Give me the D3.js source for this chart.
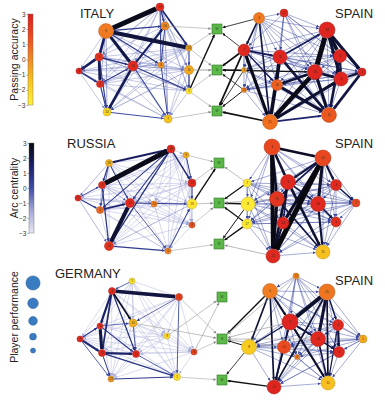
<!DOCTYPE html>
<html>
<head>
<meta charset="utf-8">
<script src="https://cdn.jsdelivr.net/npm/d3@7"></script>
<style>
  body { margin: 0; background: #fff; }
  text { font-family: "Liberation Sans", Arial, sans-serif; }
</style>
</head>
<body>
<div id="viz"></div>
<script>
// chart size
var width = 385;
var height = 400;

var panelTop = [0, 130, 260];
var panelH = 130;

// ---- data ----
var titles = ["ITALY", "RUSSIA", "GERMANY"];
var rivalTitle = "SPAIN";
var squareLabels = ["W", "G", "W"];
var accTicks = [-3, -2, -1, 0, 1, 2, 3];
var perfLegend = [2, 0, -1, -2, -3];

// node: [label, x, y (inside panel), player performance, passing accuracy]
var italyNodes = [
  ["19", 160, 7, -1.4, 2.5], ["9", 106, 31, 2.4, 0.4], ["14", 165, 26, -1.4, 0.1],
  ["16", 189, 48, -2.4, -0.4], ["6", 99, 57, -1.4, 2.3], ["15", 133, 66, -0.3, 2.6],
  ["8", 161, 65, -2.4, -0.2], ["11", 189, 70, -0.8, -0.7], ["3", 79, 71, -2.4, 2.8],
  ["2", 100, 84, -1.9, 2.5], ["5", 189, 91, -2.4, -2.6], ["10", 107, 112, -1.4, -1.9],
  ["7", 168, 119, -1.4, -1.4]
];
var russiaNodes = [
  ["16", 171, 19, -1.4, 2.6], ["9", 186, 25, -2.4, -0.8], ["18", 109, 33, -1.9, -1.0],
  ["3", 102, 55, -1.9, 2.5], ["21", 192, 53, -1.4, 2.6], ["5", 78, 68, -2.4, 2.7],
  ["11", 130, 73, -0.8, 2.7], ["14", 154, 74, -2.4, 0.1], ["19", 192, 74, -0.3, -2.6],
  ["4", 100, 80, -1.9, 0.8], ["8", 192, 95, -2.4, 1.3], ["20", 109, 116, -0.8, 2.3],
  ["6", 168, 121, -2.4, 0.2]
];
var germanyNodes = [
  ["7", 132, 21, -2.4, -2.2], ["4", 112, 31, -1.9, 2.6], ["2", 179, 37, -1.9, 1.8],
  ["10", 133, 63, -1.4, -1.0], ["6", 100, 66, -2.4, 2.5], ["9", 167, 76, -2.4, -2.2],
  ["3", 80, 79, -2.4, 2.7], ["8", 194, 92, -2.4, 1.8], ["5", 102, 93, -1.9, 2.6],
  ["11", 136, 94, -1.9, 2.6], ["13", 111, 119, -2.4, -0.3], ["1", 177, 117, -1.9, -2.3]
];
var spain1Nodes = [
  ["4", 259, 18, 0.3, 0.4], ["22", 284, 13, -1.4, 2.6], ["18", 327, 30, 3, 2.8],
  ["7", 244, 50, 0.8, 2.7], ["6", 280, 57, 1.9, 2.8], ["8", 340, 56, 1.4, 2.8],
  ["3", 244, 70, -3, -0.6], ["16", 315, 72, 2.4, 2.8], ["1", 362, 72, -1.4, 2.8],
  ["4", 341, 79, 1.9, 2.8], ["10", 277, 85, 0.3, 1.0], ["13", 244, 90, -3, 0.0],
  ["21", 270, 122, 2.4, 0.6], ["11", 329, 115, 2.4, 1.2]
];
var spain2Nodes = [
  ["3", 272, 17, 3, 1.6], ["15", 323, 28, 3, 1.6], ["7", 247, 53, -1.4, -2.6],
  ["9", 288, 52, 2.4, 2.7], ["4", 336, 55, 0.3, 2.6], ["10", 277, 69, 2.4, 2.2],
  ["8", 248, 74, 1.9, -2.7], ["16", 318, 74, 2.4, 2.7], ["1", 356, 73, -1.4, 1.6],
  ["17", 247, 94, -0.3, -2.6], ["14", 283, 93, 0.8, 2.8], ["5", 336, 92, -0.3, 2.5],
  ["21", 273, 126, 1.9, 2.7], ["11", 323, 122, 1.9, -1.3]
];
var spain3Nodes = [
  ["13", 296, 16, -2.4, 0.0], ["6", 270, 31, 2.4, 0.3], ["15", 327, 32, 3, 0.5],
  ["9", 290, 62, 3, 2.8], ["4", 338, 65, 0.3, 2.7], ["16", 318, 79, 2.4, 2.7],
  ["1", 363, 79, -1.4, -0.8], ["8", 249, 87, 2.4, -1.6], ["10", 284, 87, 1.4, 1.5],
  ["3", 297, 97, -3, 0.2], ["5", 339, 92, 0.3, 2.7], ["21", 274, 127, 1.9, 2.8],
  ["11", 328, 123, 1.9, -1.3]
];

// heavy passes: [from, to, weight, arc centrality]
var italyEdges = [
  [1, 0, 10, 2.8], [1, 3, 8, 2.2], [1, 5, 6, 2.0], [1, 4, 5, 1.5], [4, 9, 5, 1.8],
  [8, 4, 5, 1.6], [8, 9, 3, 0.8], [5, 2, 4, 1.5], [5, 11, 5, 1.8], [0, 3, 3, 1.2],
  [0, 2, 2, 0.8], [4, 5, 2.5, 0.9], [9, 5, 2, 0.6], [1, 6, 2, 0.7], [7, 10, 2, 0.5],
  [9, 11, 2, 0.5], [4, 11, 2, 0.4], [1, 2, 2, 0.6], [5, 10, 2, 0.5], [2, 6, 1.5, 0.3],
  [3, 7, 1.5, 0.3], [0, 6, 1.5, 0.2], [6, 12, 1.5, 0.3], [11, 12, 1.5, 0], [5, 12, 1.5, 0.2]
];
var russiaEdges = [
  [3, 0, 10, 2.8], [11, 6, 8, 2.4], [2, 0, 4, 1.6], [2, 3, 2, 0.8], [0, 4, 2.5, 1.2],
  [3, 11, 2, 0.8], [9, 6, 3, 1.2], [5, 9, 2, 0.5], [0, 11, 2, 1.0], [0, 9, 1.5, 0.6],
  [11, 12, 2, 0.6], [2, 6, 1.5, 0.5], [1, 4, 1.5, 0.5], [4, 8, 1.5, 0.6], [6, 8, 1.5, 0.4],
  [12, 8, 1.5, 0.4], [0, 6, 1.5, 0.6], [6, 12, 1.2, 0.2], [2, 9, 1.2, 0.2], [5, 3, 1.2, 0.2]
];
var germanyEdges = [
  [1, 2, 7, 2.2], [1, 4, 4, 1.5], [4, 8, 6, 2.0], [1, 8, 3, 1.2], [6, 8, 4, 1.2],
  [8, 9, 4, 1.4], [1, 3, 3, 2.6], [8, 11, 2, 0.8], [1, 9, 2, 1.0], [4, 9, 2, 0.6],
  [6, 4, 2, 0.8], [8, 10, 1.5, 0.6], [10, 11, 1.5, 0.6], [6, 10, 1.2, 0.2], [3, 9, 1.2, 0.3],
  [2, 11, 1.2, 0.2], [0, 1, 1.2, 0.0], [9, 11, 1.2, 0.2], [4, 3, 1, 0.2], [2, 3, 1, 0.4]
];
var spain1Edges = [
  [2, 7, 10, 2.9], [2, 5, 7, 2.5], [2, 8, 6, 2.3], [2, 9, 6, 2.3], [7, 12, 9, 2.9],
  [7, 13, 6, 2.5], [4, 12, 7, 2.6], [4, 13, 5, 2.2], [3, 12, 6, 2.8], [10, 13, 6, 2.3],
  [9, 12, 6, 2.4], [5, 13, 5, 2.2], [8, 13, 5, 2.1], [3, 4, 3, 1.8], [0, 3, 3, 2.2],
  [12, 13, 3, 1.4], [4, 2, 3, 1.6], [10, 7, 5, 2.3], [5, 9, 4, 2.1], [9, 8, 4, 2.1],
  [7, 9, 5, 2.3], [0, 12, 3, 2.0], [3, 10, 2.5, 1.6]
];
var spain2Edges = [
  [1, 12, 10, 3], [0, 12, 8, 2.9], [0, 1, 5, 2.6], [0, 3, 5, 2.4], [0, 5, 5, 2.6],
  [1, 10, 6, 2.6], [1, 7, 6, 2.5], [1, 3, 4, 2.2], [1, 4, 4, 2.2], [3, 13, 5, 2.4],
  [5, 12, 6, 2.7], [7, 13, 4, 2.3], [3, 12, 5, 2.5], [5, 13, 3, 2.0], [10, 12, 4, 2.3],
  [3, 7, 3, 2.0], [4, 8, 2.5, 1.8], [7, 11, 3, 2.0], [1, 5, 3, 1.8], [3, 10, 2.5, 1.8]
];
var spain3Edges = [
  [2, 3, 8, 2.5], [2, 5, 6, 2.3], [3, 12, 4, 2.5], [1, 3, 4, 2.4], [2, 11, 3, 2.4],
  [1, 11, 3, 2.3], [2, 12, 3, 2.4], [3, 11, 3, 2.2], [4, 10, 4, 2.3], [5, 12, 3, 2.1],
  [8, 11, 3, 2.2], [1, 7, 3, 2.4], [3, 5, 3, 2.0], [2, 4, 2.5, 1.8], [3, 8, 2.5, 1.9],
  [4, 12, 2, 1.8], [7, 3, 2, 1.8], [3, 10, 2.5, 2.0]
];

// light passes: for node i, the later nodes it is linked to ("d" = darker arc)
var italyThin = ["2 4 5 7d 8 9 10 11 12", "7 8 9d 10 11d 12", "3 4 7 9 10 11 12d", "4 5 6 8 9 10 11 12",
  "6 7 10d 12", "6 7d 8 10", "7 8 9 10 11", "8 9 11d 12", "10 11 12", "10 12", "12", "", ""];
var russiaThin = ["1 2d 5 7 8 10 12", "2 3 5 6 7 8 9 10 11 12", "4 5d 7 8 10 11 12", "4 6d 7 8 9d 10 12",
  "5 6 7 9 10 11 12", "6 7 8 10 11d 12", "7 9 10 11", "8 9 10 11 12", "9 10 11d 12", "10 11 12", "11 12", "", ""];
var germanyThin = ["2 3 4 5 6 7 8 9 10 11", "5 6 7 10 11", "4 5 6 7 8 9 10", "5 6 7 8 10 11", "5 7 10 11",
  "6 7 8 9 10 11", "7 9 11", "8 9 10 11", "10", "10", "", ""];
var spain1Thin = ["1 2 4 5 6 7 9 10 11 13", "2 3 4 5 7 8 9 10 12 13", "3 6 10 11 12 13", "5 6 7 8 9 11 13",
  "5 6 7 8 9 10 11", "6 7 8 10 11 12", "7 10 12 13", "8 11", "10 11 12", "10 11 13", "11 12", "12 13", "", ""];
var spain2Thin = ["2 4 6 7 8 9 10 11 13", "2 6 8 9 11 13", "4 5 6 7 8 9 10 11 12", "4 5 6 8 9 11",
  "5 6 7 9 10 11 12 13", "6 7 8 9 10 11", "7 8 9 10 11 12 13", "8 9 10 12", "9 10 11 12 13", "10 11 12 13",
  "11 13", "12 13", "13", ""];
var spain3Thin = ["1 2 3 4 5 6 7 8 10 11 12", "2 4 5 6 8 9 10 12", "6 7 8 9 10", "4 6 9", "5 6 7 8 9 11",
  "6 7 8 9 10 11", "7 8 9 10 11 12", "8 9 10 11 12", "9 10 12", "10 11 12", "11 12", "12", ""];
var thinCentrality = { italy: -0.9, russia: -1.5, germany: -1.7, spain: 0.2 };

// links to the outcome squares: [node, square, weight, "k" black / "g" grey]
var italySq = [[10, 0, 3, "k"], [2, 0, 0.7, "g"], [3, 0, 0.7, "g"], [7, 1, 1.5, "g"], [10, 1, 0.7, "g"],
  [12, 2, 0.7, "g"], [10, 2, 0.7, "g"], [3, 1, 0.7, "g"]];
var russiaSq = [[8, 0, 3, "k"], [4, 0, 0.7, "g"], [8, 1, 0.8, "g"], [1, 0, 0.6, "g"], [10, 1, 0.6, "g"],
  [12, 2, 0.6, "g"]];
var germanySq = [[5, 0, 0.8, "g"], [7, 0, 0.8, "g"], [3, 1, 0.8, "g"], [2, 1, 0.6, "g"], [7, 1, 0.6, "g"],
  [11, 2, 0.6, "g"]];
var spain1Sq = [[3, 1, 4, "k"], [3, 2, 4, "k"], [12, 2, 4, "k"], [6, 1, 2, "k"], [11, 2, 2, "k"],
  [0, 0, 1.5, "k"], [3, 0, 1.5, "k"], [11, 1, 1.5, "k"], [6, 2, 1.5, "k"], [7, 1, 3, "k"]];
var spain2Sq = [[2, 1, 2.5, "k"], [6, 1, 3.5, "k"], [9, 1, 2.5, "k"], [9, 2, 3, "k"], [6, 2, 2, "k"],
  [12, 2, 1, "g"], [2, 0, 0.8, "g"], [5, 1, 0.8, "g"]];
var spain3Sq = [[1, 1, 3, "k"], [7, 1, 2, "k"], [7, 2, 1.5, "k"], [11, 2, 3, "k"], [8, 1, 1, "g"],
  [3, 1, 1, "g"], [5, 1, 0.8, "g"], [0, 1, 0.8, "g"]];

var squareX = [217, 219, 222];
var squareY = [[29, 70, 111], [33, 73, 114], [37, 79, 120]];

// ---- scales ----
var xScale = d3.scaleLinear().domain([0, width]).range([0, width]);
var rScale = d3.scaleLinear().domain([-3, 3]).range([2.5, 8]);
var accColor = d3.scaleLinear()
  .domain([-3, -1.5, 0, 1.5, 3])
  .range(["#fff23a", "#f8c81e", "#f28a22", "#ea4a20", "#dc1f1f"]);
var arcColor = d3.scaleLinear()
  .domain([-3, -1.5, 0, 1.5, 3])
  .range(["#e6e6f4", "#a4a8d6", "#3e4ca6", "#1a2066", "#08080f"]);
var arcWidth = d3.scaleLinear().domain([0, 10]).range([0.3, 5]);

var svg = d3.select("#viz").append("svg")
  .attr("width", width)
  .attr("height", height);
var defs = svg.append("defs");

// arrow heads, one per colour
var markers = {};
function marker(col) {
  if (markers[col]) return markers[col];
  var id = "m" + Object.keys(markers).length;
  defs.append("marker")
    .attr("id", id)
    .attr("viewBox", "0 -3 6 6")
    .attr("refX", 6).attr("refY", 0)
    .attr("markerUnits", "userSpaceOnUse")
    .attr("markerWidth", 3).attr("markerHeight", 3)
    .attr("orient", "auto")
    .append("path").attr("d", "M0,-3L6,0L0,3Z").attr("fill", col);
  markers[col] = "url(#" + id + ")";
  return markers[col];
}

function buildNodes(rows, yScale) {
  return rows.map(function (d) {
    return { label: d[0], x: xScale(d[1]), y: yScale(d[2]), r: rScale(d[3]), fill: accColor(d[4]) };
  });
}

function buildEdges(nodes, thick, thin, thinC) {
  var seen = {};
  var out = [];
  thick.forEach(function (e) {
    seen[Math.min(e[0], e[1]) + "-" + Math.max(e[0], e[1])] = true;
  });
  thin.forEach(function (s, i) {
    s.split(" ").filter(Boolean).forEach(function (tok) {
      var j = parseInt(tok);
      if (seen[i + "-" + j]) return;
      var c = thinC + (tok.indexOf("d") > -1 ? 1.2 : 0);
      out.push({ s: nodes[i], t: nodes[j], w: 0, c: c });
    });
  });
  thick.forEach(function (e) {
    out.push({ s: nodes[e[0]], t: nodes[e[1]], w: e[2], c: e[3] });
  });
  out.sort(function (a, b) { return a.w - b.w; });
  return out;
}

function drawEdges(g, edges) {
  g.selectAll(null)
    .data(edges)
    .enter()
    .append("line")
    .each(function (d) {
      var dx = d.t.x - d.s.x, dy = d.t.y - d.s.y;
      var L = Math.sqrt(dx * dx + dy * dy);
      var col = arcColor(d.c);
      d3.select(this)
        .attr("x1", d.s.x + dx / L * d.s.r)
        .attr("y1", d.s.y + dy / L * d.s.r)
        .attr("x2", d.t.x - dx / L * (d.t.r + 0.3))
        .attr("y2", d.t.y - dy / L * (d.t.r + 0.3))
        .attr("stroke", col)
        .attr("stroke-width", d.w === 0 ? 0.45 : arcWidth(d.w))
        .attr("marker-end", marker(col));
    });
}

function drawSquareLinks(g, nodes, links, sq) {
  g.selectAll(null)
    .data(links)
    .enter()
    .append("line")
    .each(function (d) {
      var n = nodes[d[0]], s = sq[d[1]];
      var dx = s.x - n.x, dy = s.y - n.y;
      var L = Math.sqrt(dx * dx + dy * dy);
      var k = Math.min(5.6 / Math.abs(dx || 1e-6), 5.6 / Math.abs(dy || 1e-6));
      var col = d[3] === "k" ? "#111" : "#8c8c8c";
      d3.select(this)
        .attr("x1", n.x + dx / L * n.r)
        .attr("y1", n.y + dy / L * n.r)
        .attr("x2", s.x - dx * k)
        .attr("y2", s.y - dy * k)
        .attr("stroke", col)
        .attr("stroke-width", arcWidth(d[2]) * 0.8)
        .attr("marker-end", marker(col));
    });
}

function drawNodes(g, nodes) {
  var n = g.selectAll(null).data(nodes).enter().append("g");
  n.append("circle")
    .attr("cx", function (d) { return d.x; })
    .attr("cy", function (d) { return d.y; })
    .attr("r", function (d) { return d.r; })
    .attr("fill", function (d) { return d.fill; })
    .attr("stroke", function (d) { return d3.color(d.fill).darker(0.8); })
    .attr("stroke-width", 0.5);
  n.append("text")
    .attr("x", function (d) { return d.x; })
    .attr("y", function (d) { return d.y + 1; })
    .attr("text-anchor", "middle")
    .style("font-size", "3px")
    .attr("fill", "#3a2a10")
    .text(function (d) { return d.label; });
}

var panels = [
  { opp: italyNodes, oppE: italyEdges, oppT: italyThin, oppC: thinCentrality.italy, oppS: italySq,
    sp: spain1Nodes, spE: spain1Edges, spT: spain1Thin, spS: spain1Sq },
  { opp: russiaNodes, oppE: russiaEdges, oppT: russiaThin, oppC: thinCentrality.russia, oppS: russiaSq,
    sp: spain2Nodes, spE: spain2Edges, spT: spain2Thin, spS: spain2Sq },
  { opp: germanyNodes, oppE: germanyEdges, oppT: germanyThin, oppC: thinCentrality.germany, oppS: germanySq,
    sp: spain3Nodes, spE: spain3Edges, spT: spain3Thin, spS: spain3Sq }
];

panels.forEach(function (p, i) {
  var yScale = d3.scaleLinear().domain([0, panelH]).range([panelTop[i], panelTop[i] + panelH]);
  var g = svg.append("g").attr("class", "panel");
  var oppNodes = buildNodes(p.opp, yScale);
  var spNodes = buildNodes(p.sp, yScale);
  var sq = squareY[i].map(function (v, k) {
    return { x: xScale(squareX[i]), y: yScale(v), label: squareLabels[k] };
  });

  drawEdges(g, buildEdges(oppNodes, p.oppE, p.oppT, p.oppC));
  drawEdges(g, buildEdges(spNodes, p.spE, p.spT, thinCentrality.spain));
  drawSquareLinks(g, oppNodes, p.oppS, sq);
  drawSquareLinks(g, spNodes, p.spS, sq);
  drawNodes(g, oppNodes);
  drawNodes(g, spNodes);

  var s = g.selectAll(null).data(sq).enter().append("g");
  s.append("rect")
    .attr("x", function (d) { return d.x - 5; })
    .attr("y", function (d) { return d.y - 5; })
    .attr("width", 10).attr("height", 10)
    .attr("fill", "#5cb848")
    .attr("stroke", "#2f7a2a")
    .attr("stroke-width", 0.6);
  s.append("text")
    .attr("x", function (d) { return d.x; })
    .attr("y", function (d) { return d.y + 1; })
    .attr("text-anchor", "middle")
    .style("font-size", "3px")
    .attr("fill", "#1f3f1a")
    .text(function (d) { return d.label; });

  // titles
  var titleX = [80, 67, 55];
  g.append("text")
    .attr("x", titleX[i]).attr("y", yScale(18))
    .style("font-size", "13px")
    .attr("fill", "#222")
    .text(titles[i]);
  g.append("text")
    .attr("x", 335).attr("y", yScale(i === 2 ? 25 : 18))
    .style("font-size", "13px")
    .attr("fill", "#222")
    .text(rivalTitle);
});

// ---- legends ----
function colorBar(id, scale, x0, y0, y1, label) {
  var grad = defs.append("linearGradient").attr("id", id)
    .attr("x1", 0).attr("y1", 1).attr("x2", 0).attr("y2", 0);
  scale.domain().forEach(function (v) {
    grad.append("stop").attr("offset", (v + 3) / 6).attr("stop-color", scale(v));
  });
  svg.append("rect")
    .attr("x", x0).attr("y", y0)
    .attr("width", 5).attr("height", y1 - y0)
    .attr("fill", "url(#" + id + ")")
    .attr("stroke", "#666").attr("stroke-width", 0.4);
  var ax = d3.scaleLinear().domain([-3, 3]).range([y1, y0]);
  var axis = svg.append("g")
    .attr("transform", "translate(" + x0 + ",0)")
    .call(d3.axisLeft(ax).tickValues(accTicks).tickFormat(d3.format("d")).tickSize(1.5).tickPadding(1));
  axis.select(".domain").remove();
  axis.selectAll("line").attr("stroke", "#555").attr("stroke-width", 0.5);
  axis.selectAll("text").style("font-size", "6.5px").attr("fill", "#333");
  svg.append("text")
    .attr("transform", "translate(18," + (y0 + y1) / 2 + ") rotate(-90)")
    .attr("text-anchor", "middle")
    .style("font-size", "10.5px")
    .attr("fill", "#222")
    .text(label);
}

colorBar("accGrad", accColor, 28, 14, 105, "Passing accuracy");
colorBar("arcGrad", arcColor, 29, 143, 233, "Arc centrality");

// player performance circles
var ly = 283;
var legendPos = perfLegend.map(function (v, i) {
  if (i > 0) ly += rScale(perfLegend[i - 1]) + rScale(v) + 8;
  return { v: v, y: ly };
});
svg.selectAll(".perf")
  .data(legendPos)
  .enter()
  .append("circle")
  .attr("class", "perf")
  .attr("cx", 33)
  .attr("cy", function (d) { return d.y; })
  .attr("r", function (d) { return rScale(d.v); })
  .attr("fill", "#3a7cc2")
  .attr("stroke", "#22558c")
  .attr("stroke-width", 0.5);
svg.append("text")
  .attr("transform", "translate(18,317) rotate(-90)")
  .attr("text-anchor", "middle")
  .style("font-size", "10.5px")
  .attr("fill", "#222")
  .text("Player performance");
</script>
</body>
</html>
